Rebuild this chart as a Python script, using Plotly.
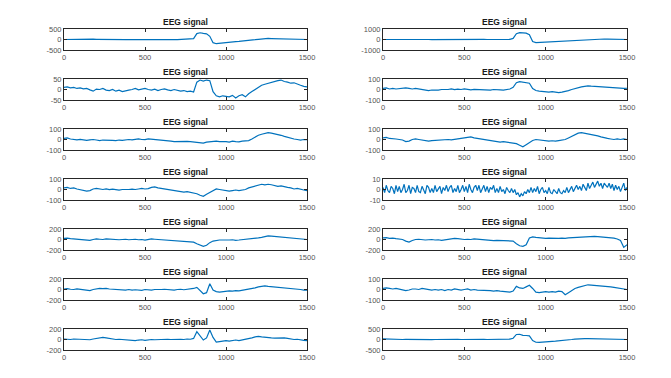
import plotly.graph_objects as go

# sample positions (every 20 samples)
x_samples = list(range(0, 1501, 20))
x_fine = list(range(0, 1501, 10))

title_text = "EEG signal"
x_ticks = [0, 500, 1000, 1500]

# left column, rows 1..7
s1 = [0,5,-5,0,-8,-5,0,10,20,15,
      10,5,0,5,-5,0,5,-5,0,-10,
      -5,0,5,-5,0,5,0,-5,0,5,
      0,-5,0,5,0,-5,0,5,0,10,
      40,280,320,290,270,150,-150,-200,-180,-150,
      -130,-120,-110,-100,-90,-80,-60,-50,-30,-10,
      10,30,40,50,45,40,35,30,25,20,
      20,15,10,5,0,0]
s2 = [10,12,8,10,5,8,3,5,-2,-8,
      2,0,5,-3,-5,0,-8,-3,-10,-5,
      -3,0,5,-2,3,5,0,-3,2,-5,
      0,3,-2,-5,0,-3,-8,-5,-10,-8,
      -12,35,45,40,45,42,-10,-30,-35,-30,
      -32,-35,-28,-40,-30,-25,-35,-20,-10,0,
      10,20,25,30,35,38,42,45,38,35,
      30,32,25,20,15,12]
s3 = [10,15,5,0,-3,2,-5,-8,-3,0,
      -5,-10,-5,-8,-12,-8,-10,-5,-8,-3,
      0,-3,2,5,0,-2,5,3,0,-5,
      -3,-8,-10,-15,-20,-18,-15,-20,-18,-20,
      -25,-28,-30,-35,-25,-20,-22,-15,-20,-18,
      -20,-25,-15,-20,-22,-15,-12,-10,5,25,
      40,50,60,65,60,55,50,40,30,20,
      10,5,0,-5,0,-2]
s4 = [15,20,10,15,5,0,-5,-15,-10,5,
      10,5,0,5,-2,3,0,-5,0,-3,
      0,3,0,5,10,5,8,20,25,15,
      10,5,0,-5,-10,-15,-20,-25,-20,-25,
      -30,-40,-55,-65,-45,-30,-10,5,0,-5,
      -10,-15,-10,-5,-10,-5,0,15,25,30,
      40,50,45,50,45,40,30,35,25,20,
      15,5,10,0,-5,-10]
s5 = [20,25,15,10,5,10,0,-10,-15,0,
      10,5,0,10,5,0,5,-5,0,5,
      -5,0,5,-5,0,-10,0,10,5,0,
      5,0,-5,-10,-15,-20,-25,-30,-35,-40,
      -50,-80,-110,-130,-110,-60,-30,-15,-10,-10,
      -15,-10,-5,-15,-10,-5,0,5,15,25,
      30,40,60,70,65,60,55,50,45,40,
      30,25,20,15,5,0]
s6 = [10,15,5,0,10,0,-5,-10,-20,0,
      10,20,15,20,10,5,0,-5,0,-10,
      0,-10,-5,-10,-15,0,-5,-10,0,-5,
      0,5,0,-5,-10,0,5,-5,0,10,
      20,40,-20,-80,-60,110,-10,-40,-50,-40,
      -30,-25,-30,-20,-25,-15,-10,0,10,30,
      50,60,70,60,55,50,45,40,30,30,
      20,15,10,0,-10,-10]
s7 = [10,5,0,10,5,0,-5,0,-5,10,
      20,30,40,30,20,10,0,5,0,-5,
      -10,-15,-20,-10,-5,-15,-5,0,-5,0,
      -5,0,5,0,5,0,5,0,10,5,
      20,150,60,-10,30,180,40,-50,-40,-30,
      -20,-30,-20,-10,-20,-10,0,10,30,50,
      60,50,40,35,30,25,30,35,30,20,
      10,0,5,-10,-15,-20]

# right column, rows 1..7
s8 = [0,5,-5,0,-5,0,5,-5,0,5,
      0,-5,0,5,0,-5,0,5,0,-5,
      0,5,10,5,0,5,10,15,10,5,
      10,5,0,5,10,5,0,5,10,20,
      100,550,650,640,600,450,-200,-300,-280,-260,
      -240,-220,-200,-180,-160,-140,-120,-100,-80,-60,
      -40,-20,0,20,40,50,60,55,50,45,
      40,30,20,10,5,0]
s9 = [10,15,5,10,5,8,10,15,10,5,
      10,5,0,-5,-10,-5,-8,-5,0,-3,
      0,5,-2,3,0,5,0,-3,2,0,
      5,0,-3,-5,0,-5,-3,-5,0,5,
      20,65,75,72,70,60,10,-10,-15,-20,
      -20,-25,-20,-25,-30,-25,-20,-10,0,10,
      20,25,30,35,32,30,25,20,25,20,
      20,15,10,15,10,12]
s10 = [15,20,10,10,5,0,-5,-20,-15,0,
       5,0,-5,-10,-15,-10,-8,-5,0,-5,
       0,-3,0,5,10,15,20,25,15,10,
       5,0,-5,-10,-15,-20,-25,-20,-25,-30,
       -30,-40,-55,-70,-50,-30,-10,0,-5,-10,
       -10,-15,-12,-15,-10,-5,0,15,30,45,
       60,65,60,55,50,45,35,25,15,10,
       5,0,5,0,5,0]
# noisy channel, every 10 samples
s11 = [2,-3,4,-1,-3,3,1,-4,4,-2,
       3,-3,0,5,-3,-1,4,-4,2,1,
       -3,4,-2,-3,3,0,-4,4,2,-3,
       1,-3,4,-2,0,3,-4,2,-1,4,
       -2,2,4,-3,1,-2,4,-3,0,4,
       -2,3,-3,5,0,-3,2,4,-1,4,
       -3,1,4,-2,3,-3,2,0,4,-3,
       1,-3,3,-2,0,-4,2,-1,-3,1,
       -3,0,-5,-3,-7,-4,-6,-2,-4,0,
       -3,2,-3,1,-2,3,-4,0,2,-3,
       -1,-4,2,-3,-4,0,-2,-4,1,-3,
       -4,-1,-3,2,-3,0,3,-2,1,4,
       0,3,-1,5,2,-1,6,1,4,7,
       2,5,8,3,6,1,6,4,2,6,
       1,5,-1,4,0,3,-2,2,6,-1,
       2]
s12 = [30,35,20,25,15,10,0,-30,-50,-20,
       0,5,-5,-10,-5,0,-10,-5,-15,-5,
       0,10,20,15,5,0,5,0,10,5,
       0,-5,-20,-25,-20,-15,-20,-15,-20,-25,
       -30,-80,-120,-130,-100,30,50,40,30,25,
       20,25,20,15,20,25,20,30,35,40,
       45,50,55,60,65,60,55,50,45,40,
       30,25,10,-20,-150,-100]
s13 = [10,15,10,5,10,5,0,-10,-5,5,
       5,0,10,5,0,-5,0,-5,0,-10,
       0,-5,5,0,-5,0,5,-5,0,-5,
       -5,-10,-5,-10,-15,-10,-15,-20,-20,-25,
       -15,30,15,10,25,40,10,-25,-30,-25,
       -20,-25,-20,-25,-15,-20,-50,-30,-10,10,
       20,30,40,45,42,40,35,30,35,30,
       25,20,15,10,5,0]
s14 = [30,20,10,15,10,5,0,5,0,5,
       0,-5,0,5,0,-5,0,5,0,-5,
       0,5,0,5,0,5,0,5,0,5,
       10,5,0,5,10,5,0,5,10,20,
       60,240,250,200,190,170,-50,-130,-140,-120,
       -110,-100,-90,-80,-70,-60,-40,-20,0,20,
       40,50,45,40,35,30,25,20,20,15,
       10,10,5,0,0,0]

series = [s1, s2, s3, s4, s5, s6, s7, s8, s9, s10, s11, s12, s13, s14]
y_limits = [500, 50, 100, 100, 200, 200, 200, 1000, 100, 100, 10, 200, 100, 500]

# page offset (body margin) compensation
OFF = 8
W, H = 671 - 2 * OFF, 378 - 2 * OFF
col_px = [(64, 307), (383, 627)]
row_top0, row_h, row_step = 29, 21, 50

fig = go.Figure()
layout = dict(width=W, height=H, autosize=False,
              margin=dict(l=0, r=0, t=0, b=0, pad=0, autoexpand=False),
              paper_bgcolor="white", plot_bgcolor="white",
              showlegend=False, annotations=[])

axis_common = dict(showline=True, linecolor="#262626", linewidth=1, mirror="ticks",
                   ticks="inside", ticklen=3, tickwidth=1, tickcolor="#262626",
                   showgrid=False, zeroline=False, automargin=False,
                   tickfont=dict(family="Liberation Sans, Arial", size=7.5, color="#555555"))

for k, (ys, lim) in enumerate(zip(series, y_limits)):
    n = k + 1
    col, row = k // 7, k % 7
    x0, x1 = col_px[col]
    top = row_top0 + row * row_step
    bot = top + row_h
    xd = [(x0 - OFF) / W, (x1 - OFF) / W]
    yd = [1 - (bot - OFF) / H, 1 - (top - OFF) / H]
    sfx = "" if n == 1 else str(n)
    xs = x_fine if len(ys) == len(x_fine) else x_samples
    fig.add_trace(go.Scatter(x=xs, y=ys, mode="lines",
                             line=dict(color="#0072BD", width=1.2),
                             xaxis="x" + sfx, yaxis="y" + sfx, hoverinfo="skip"))
    yt = [-lim, 0, lim]
    layout["xaxis" + sfx] = dict(axis_common, domain=xd, anchor="y" + sfx,
                                 range=[0, 1500], tickvals=x_ticks,
                                 ticktext=[str(v) for v in x_ticks])
    layout["yaxis" + sfx] = dict(axis_common, domain=yd, anchor="x" + sfx,
                                 range=[-lim, lim], tickvals=yt,
                                 ticktext=[str(v) for v in yt])
    layout["annotations"].append(dict(text="<b>" + title_text + "</b>", xref="paper", yref="paper",
                                      x=(xd[0] + xd[1]) / 2, y=yd[1], xanchor="center",
                                      yanchor="bottom", yshift=0, showarrow=False,
                                      font=dict(family="Liberation Sans, Arial", size=8.5,
                                                color="#1a1a1a")))

fig.update_layout(**layout)
fig.write_html("out.html")
